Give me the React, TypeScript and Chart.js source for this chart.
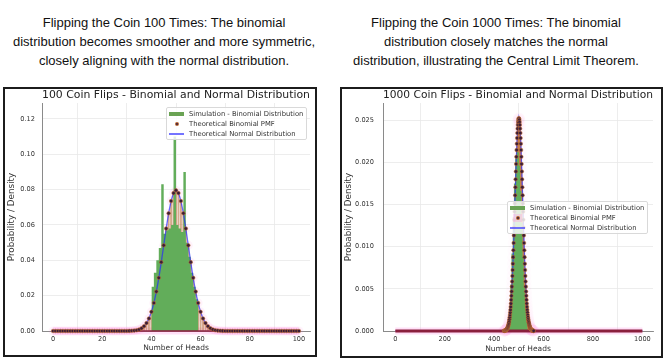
import React, { useEffect, useRef } from "react";
import { Chart, registerables } from "chart.js";

Chart.register(...registerables);

const FONT = "'DejaVu Sans', sans-serif";

// ---------- texts ----------
const caption100 = [
  "Flipping the Coin 100 Times: The binomial",
  "distribution becomes smoother and more symmetric,",
  "closely aligning with the normal distribution.",
];
const caption1000 = [
  "Flipping the Coin 1000 Times: The binomial",
  "distribution closely matches the normal",
  "distribution, illustrating the Central Limit Theorem.",
];
const title100 = "100 Coin Flips - Binomial and Normal Distribution";
const title1000 = "1000 Coin Flips - Binomial and Normal Distribution";
const xAxisLabel = "Number of Heads";
const yAxisLabel = "Probability / Density";
const legendLabels = [
  "Simulation - Binomial Distribution",
  "Theoretical Binomial PMF",
  "Theoretical Normal Distribution",
];

// ---------- 100 flips ----------
const kFirst100 = 0;
const pmf100 = [
  0, 0, 0, 0, 0, 0, 0, 0, 0, 0,
  0, 0, 0, 0, 0, 0, 0, 0, 0, 0,
  0, 0, 0, 0, 0, 0, 0, 0, 0, 0,
  0.00002, 0.00005, 0.00011, 0.00023, 0.00046, 0.00086, 0.00156, 0.00271, 0.00448, 0.00711,
  0.01084, 0.01587, 0.02229, 0.03007, 0.03895, 0.04847, 0.05796, 0.06659, 0.07353, 0.07802,
  0.07959,
  0.07802, 0.07353, 0.06659, 0.05796, 0.04847, 0.03895, 0.03007, 0.02229, 0.01587, 0.01084,
  0.00711, 0.00448, 0.00271, 0.00156, 0.00086, 0.00046, 0.00023, 0.00011, 0.00005, 0.00002,
  0, 0, 0, 0, 0, 0, 0, 0, 0, 0,
  0, 0, 0, 0, 0, 0, 0, 0, 0, 0,
  0, 0, 0, 0, 0, 0, 0, 0, 0, 0,
];
const histEdges100 = [40, 41, 42, 43, 44, 45, 46, 47, 48, 49, 50, 51, 52, 53, 54, 55, 56, 57, 58, 59, 60];
const histDensity100 = [
  0.021, 0.025, 0.033, 0.040, 0.047, 0.083, 0.055, 0.057, 0.058, 0.060,
  0.110, 0.060, 0.058, 0.056, 0.090, 0.050, 0.042, 0.033, 0.025, 0.018,
];
const normalX100 = [
  0, 20,
  30, 31, 32, 33, 34, 35, 36, 37, 38, 39, 40, 41, 42, 43, 44, 45, 46, 47, 48, 49, 50,
  51, 52, 53, 54, 55, 56, 57, 58, 59, 60, 61, 62, 63, 64, 65, 66, 67, 68, 69, 70,
  80, 100,
];
const normalY100 = [
  0, 0,
  0.00003, 0.00006, 0.00012, 0.00025, 0.00048, 0.00089, 0.00158, 0.00272, 0.00448, 0.00709,
  0.0108, 0.01579, 0.02218, 0.02995, 0.03884, 0.04839, 0.05794, 0.06664, 0.07365, 0.07821,
  0.07979,
  0.07821, 0.07365, 0.06664, 0.05794, 0.04839, 0.03884, 0.02995, 0.02218, 0.01579, 0.0108,
  0.00709, 0.00448, 0.00272, 0.00158, 0.00089, 0.00048, 0.00025, 0.00012, 0.00006, 0.00003,
  0, 0,
];
const baseline100 = [0, 100];
const xTicks100 = [0, 20, 40, 60, 80, 100];
const yTicks100 = [0, 0.02, 0.04, 0.06, 0.08, 0.1, 0.12];

// ---------- 1000 flips ----------
const kFirst1000 = 440;
const pmf1000 = [
  0.00002, 0.00002, 0.00003, 0.00004, 0.00005, 0.00006, 0.00007, 0.00009, 0.00011, 0.00014,
  0.00017, 0.00021, 0.00025, 0.0003, 0.00037, 0.00044, 0.00053, 0.00062, 0.00074, 0.00087,
  0.00103, 0.0012, 0.0014, 0.00163, 0.00189, 0.00218, 0.0025, 0.00286, 0.00325, 0.00369,
  0.00417, 0.00469, 0.00526, 0.00587, 0.00653, 0.00723, 0.00797, 0.00876, 0.00958, 0.01044,
  0.01134, 0.01226, 0.0132, 0.01415, 0.01512, 0.01609, 0.01705, 0.01799, 0.01892, 0.01981,
  0.02066, 0.02146, 0.0222, 0.02288, 0.02348, 0.024, 0.02444, 0.02478, 0.02503, 0.02518,
  0.02523,
  0.02518, 0.02503, 0.02478, 0.02444, 0.024, 0.02348, 0.02288, 0.0222, 0.02146, 0.02066,
  0.01981, 0.01892, 0.01799, 0.01705, 0.01609, 0.01512, 0.01415, 0.0132, 0.01226, 0.01134,
  0.01044, 0.00958, 0.00876, 0.00797, 0.00723, 0.00653, 0.00587, 0.00526, 0.00469, 0.00417,
  0.00369, 0.00325, 0.00286, 0.0025, 0.00218, 0.00189, 0.00163, 0.0014, 0.0012, 0.00103,
  0.00087, 0.00074, 0.00062, 0.00053, 0.00044, 0.00037, 0.0003, 0.00025, 0.00021, 0.00017,
  0.00014, 0.00011, 0.00009, 0.00007, 0.00006, 0.00005, 0.00004, 0.00003, 0.00002, 0.00002,
];
const histEdges1000 = [460, 465, 470, 475, 480, 485, 490, 495, 500, 505, 510, 515, 520, 525, 530, 535, 540];
const histDensity1000 = [
  0.0012, 0.0028, 0.0055, 0.0092, 0.0135, 0.0175, 0.0205, 0.0216,
  0.0212, 0.0196, 0.0166, 0.0128, 0.0088, 0.0052, 0.0026, 0.001,
];
const normalX1000 = [
  0, 400,
  440, 444, 448, 452, 456, 460, 464, 468, 472, 476, 480, 484, 488, 492, 496, 500,
  504, 508, 512, 516, 520, 524, 528, 532, 536, 540, 544, 548, 552, 556, 560,
  600, 1000,
];
const normalY1000 = [
  0, 0,
  0.00002, 0.00005, 0.00011, 0.00025, 0.00053, 0.00103, 0.00189, 0.00325, 0.00526, 0.00797,
  0.01134, 0.01512, 0.01892, 0.0222, 0.02444,
  0.02523,
  0.02444, 0.0222, 0.01892, 0.01512, 0.01134, 0.00797, 0.00526, 0.00325, 0.00189, 0.00103,
  0.00053, 0.00025, 0.00011, 0.00005, 0.00002,
  0, 0,
];
const baseline1000 = [0, 1000];
const xTicks1000 = [0, 200, 400, 600, 800, 1000];
const yTicks1000 = [0, 0.005, 0.01, 0.015, 0.02, 0.025];

type Spec = {
  title: string;
  kFirst: number;
  pmf: number[];
  histEdges: number[];
  histDensity: number[];
  normalX: number[];
  normalY: number[];
  baseline: number[];
  xTicks: number[];
  yTicks: number[];
  xMin: number;
  xMax: number;
  yMax: number;
  yDecimals: number;
  canvasW: number;
  canvasH: number;
  yAxisW: number;
  xAxisH: number;
  padRight: number;
  yTickPad: number;
  stemColor: string;
  stemFrac: number;
  haloR: number;
  haloColor: string;
  baseW: number;
};

function buildConfig(s: Spec): any {
  const pmfPoints = s.pmf.map((y, i) => ({ x: s.kFirst + i, y }));
  const histPoints = [
    { x: s.histEdges[0], y: 0 },
    ...s.histDensity.map((y, i) => ({ x: s.histEdges[i], y })),
    { x: s.histEdges[s.histEdges.length - 1], y: 0 },
  ];
  const normalPoints = s.normalX.map((x, i) => ({ x, y: s.normalY[i] }));
  const basePoints = s.baseline.map((x) => ({ x, y: 0 }));
  const tickFont = { family: FONT, size: 6.6 };
  const gridCfg = { color: "#e8e8e8", lineWidth: 0.8, drawTicks: false };
  const borderCfg = { display: true, color: "#8a8a8a", width: 1 };
  return {
    type: "scatter",
    data: {
      datasets: [
        {
          type: "scatter",
          label: "pmf",
          data: pmfPoints,
          pointRadius: 1.8,
          pointBackgroundColor: "#3a1d38",
          pointBorderColor: "rgba(196,110,50,0.9)",
          pointBorderWidth: 0.6,
          order: 0,
          clip: 4,
        },
        {
          type: "line",
          label: "baseline",
          data: basePoints,
          borderColor: "#8a1f3d",
          borderWidth: s.baseW,
          pointRadius: 0,
          fill: false,
          order: 1,
          clip: 4,
        },
        {
          type: "line",
          label: "normal",
          data: normalPoints,
          borderColor: "rgba(40,40,255,0.7)",
          borderWidth: 1.3,
          pointRadius: 0,
          fill: false,
          tension: 0,
          order: 2,
        },
        {
          type: "line",
          label: "hist",
          data: histPoints,
          stepped: "after",
          fill: "origin",
          backgroundColor: "#62ad5a",
          borderColor: "rgba(0,0,0,0)",
          borderWidth: 1,
          pointRadius: 0,
          order: 3,
        },
        {
          type: "bar",
          label: "stems",
          data: pmfPoints,
          backgroundColor: s.stemColor,
          barPercentage: s.stemFrac,
          categoryPercentage: 1,
          borderWidth: 0,
          order: 4,
        },
        {
          type: "scatter",
          label: "halo",
          data: pmfPoints,
          pointRadius: s.haloR,
          pointBackgroundColor: s.haloColor,
          pointBorderWidth: 0,
          order: 5,
          clip: 6,
        },
        {
          type: "line",
          label: "halobase",
          data: basePoints,
          borderColor: "rgba(255,140,225,0.28)",
          borderWidth: 7,
          pointRadius: 0,
          fill: false,
          order: 6,
          clip: 6,
        },
      ],
    },
    options: {
      animation: false,
      responsive: false,
      devicePixelRatio: 1,
      events: [],
      layout: { padding: { left: 0, right: s.padRight, top: 0, bottom: 0 } },
      plugins: {
        legend: { display: false },
        tooltip: { enabled: false },
        title: {
          display: true,
          text: s.title,
          fullSize: false,
          color: "#222",
          font: { family: FONT, size: 11, weight: "normal", lineHeight: 1.2 },
          padding: { top: 0, bottom: 0.8 },
        },
      },
      scales: {
        x: {
          type: "linear",
          min: s.xMin,
          max: s.xMax,
          offset: false,
          afterBuildTicks: (sc: any) => {
            sc.ticks = s.xTicks.map((v) => ({ value: v }));
          },
          afterFit: (sc: any) => {
            sc.height = s.xAxisH;
          },
          ticks: {
            autoSkip: false,
            maxRotation: 0,
            padding: 4,
            color: "#333",
            font: tickFont,
            callback: (v: any) => String(v),
          },
          grid: gridCfg,
          border: borderCfg,
          title: {
            display: true,
            text: xAxisLabel,
            color: "#333",
            font: { family: FONT, size: 7.5, lineHeight: 1.2 },
            padding: { top: 0, bottom: 2.8 },
          },
        },
        y: {
          type: "linear",
          min: 0,
          max: s.yMax,
          afterBuildTicks: (sc: any) => {
            sc.ticks = s.yTicks.map((v) => ({ value: v }));
          },
          afterFit: (sc: any) => {
            sc.width = s.yAxisW;
          },
          ticks: {
            padding: s.yTickPad,
            color: "#333",
            font: tickFont,
            callback: (v: any) => Number(v).toFixed(s.yDecimals),
          },
          grid: gridCfg,
          border: borderCfg,
          title: {
            display: true,
            text: yAxisLabel,
            color: "#333",
            font: { family: FONT, size: 8.8, lineHeight: 1.2 },
            padding: { top: 1.7, bottom: 0 },
          },
        },
      },
    },
  };
}

const spec100: Spec = {
  title: title100,
  kFirst: kFirst100,
  pmf: pmf100,
  histEdges: histEdges100,
  histDensity: histDensity100,
  normalX: normalX100,
  normalY: normalY100,
  baseline: baseline100,
  xTicks: xTicks100,
  yTicks: yTicks100,
  xMin: -4.5,
  xMax: 104.5,
  yMax: 0.129,
  yDecimals: 2,
  canvasW: 310,
  canvasH: 266,
  yAxisW: 37,
  xAxisH: 24,
  padRight: 5,
  yTickPad: 7,
  stemColor: "rgba(185,115,65,0.6)",
  stemFrac: 0.8,
  haloR: 4.5,
  haloColor: "rgba(255,110,210,0.09)",
  baseW: 1.5,
};

const spec1000: Spec = {
  title: title1000,
  kFirst: kFirst1000,
  pmf: pmf1000,
  histEdges: histEdges1000,
  histDensity: histDensity1000,
  normalX: normalX1000,
  normalY: normalY1000,
  baseline: baseline1000,
  xTicks: xTicks1000,
  yTicks: yTicks1000,
  xMin: -50,
  xMax: 1043,
  yMax: 0.02704,
  yDecimals: 3,
  canvasW: 319,
  canvasH: 267,
  yAxisW: 41,
  xAxisH: 25,
  padRight: 8,
  yTickPad: 9,
  stemColor: "rgba(200,120,65,0.6)",
  stemFrac: 1,
  haloR: 6,
  haloColor: "rgba(255,110,210,0.025)",
  baseW: 3,
};

function CoinChart({ spec }: { spec: Spec }) {
  const ref = useRef<HTMLCanvasElement>(null);
  useEffect(() => {
    const chart = new Chart(ref.current as HTMLCanvasElement, buildConfig(spec));
    return () => chart.destroy();
  }, [spec]);
  return (
    <canvas
      ref={ref}
      width={spec.canvasW}
      height={spec.canvasH}
      style={{ position: "absolute", left: 0, top: 0, width: spec.canvasW, height: spec.canvasH }}
    />
  );
}

function Caption({ lines, center }: { lines: string[]; center: number }) {
  return (
    <div
      style={{
        position: "absolute",
        left: center - 180,
        top: 14,
        width: 360,
        textAlign: "center",
        fontFamily: "'Liberation Sans', Arial, sans-serif",
        fontSize: 13,
        lineHeight: "18.8px",
        color: "#111",
      }}
    >
      {lines.map((l, i) => (
        <div key={i}>{l}</div>
      ))}
    </div>
  );
}

function Legend({ left, top, pink }: { left: number; top: number; pink: boolean }) {
  const rowTops = [5.5, 15.5, 25.5];
  return (
    <div
      style={{
        position: "absolute",
        left,
        top,
        width: 141,
        height: 33,
        boxSizing: "border-box",
        background: "rgba(255,255,255,0.82)",
        border: "1px solid #d9d9d9",
        borderRadius: 2,
        fontFamily: FONT,
        fontSize: 6.8,
        color: "#333",
      }}
    >
      {legendLabels.map((label, i) => (
        <div key={i} style={{ position: "absolute", left: 0, top: rowTops[i] - 5, height: 10, width: 139 }}>
          {i === 0 && (
            <div style={{ position: "absolute", left: 2, top: 3, width: 15, height: 4, background: "#6aa354" }} />
          )}
          {i === 1 && (
            <>
              {pink && (
                <div
                  style={{ position: "absolute", left: 5, top: 1, width: 9, height: 8, background: "rgba(255,160,220,0.35)" }}
                />
              )}
              <div
                style={{
                  position: "absolute",
                  left: 7.5,
                  top: 3,
                  width: 4,
                  height: 4,
                  borderRadius: 2,
                  boxSizing: "border-box",
                  background: "#3a1d38",
                  border: "0.6px solid rgba(196,110,50,0.9)",
                }}
              />
            </>
          )}
          {i === 2 && (
            <div style={{ position: "absolute", left: 2, top: 4, width: 15, height: 2, background: "rgba(70,70,255,0.75)" }} />
          )}
          <div style={{ position: "absolute", left: 22, top: 0, lineHeight: "10px", whiteSpace: "nowrap" }}>{label}</div>
        </div>
      ))}
    </div>
  );
}

function Panel({ left, top, width, height, spec }: { left: number; top: number; width: number; height: number; spec: Spec }) {
  return (
    <div
      style={{
        position: "absolute",
        left,
        top,
        width,
        height,
        boxSizing: "border-box",
        border: "2px solid #1c1c1c",
        background: "#fff",
      }}
    >
      <CoinChart spec={spec} />
    </div>
  );
}

export default function App() {
  return (
    <div style={{ position: "absolute", left: 0, top: 0, width: 670, height: 364, background: "#fff", overflow: "hidden" }}>
      <Caption lines={caption100} center={164} />
      <Caption lines={caption1000} center={496} />
      <Panel left={3} top={87} width={314} height={270} spec={spec100} />
      <Panel left={340} top={87} width={323} height={271} spec={spec1000} />
      <Legend left={166} top={107} pink={false} />
      <Legend left={507} top={201} pink={true} />
    </div>
  );
}
